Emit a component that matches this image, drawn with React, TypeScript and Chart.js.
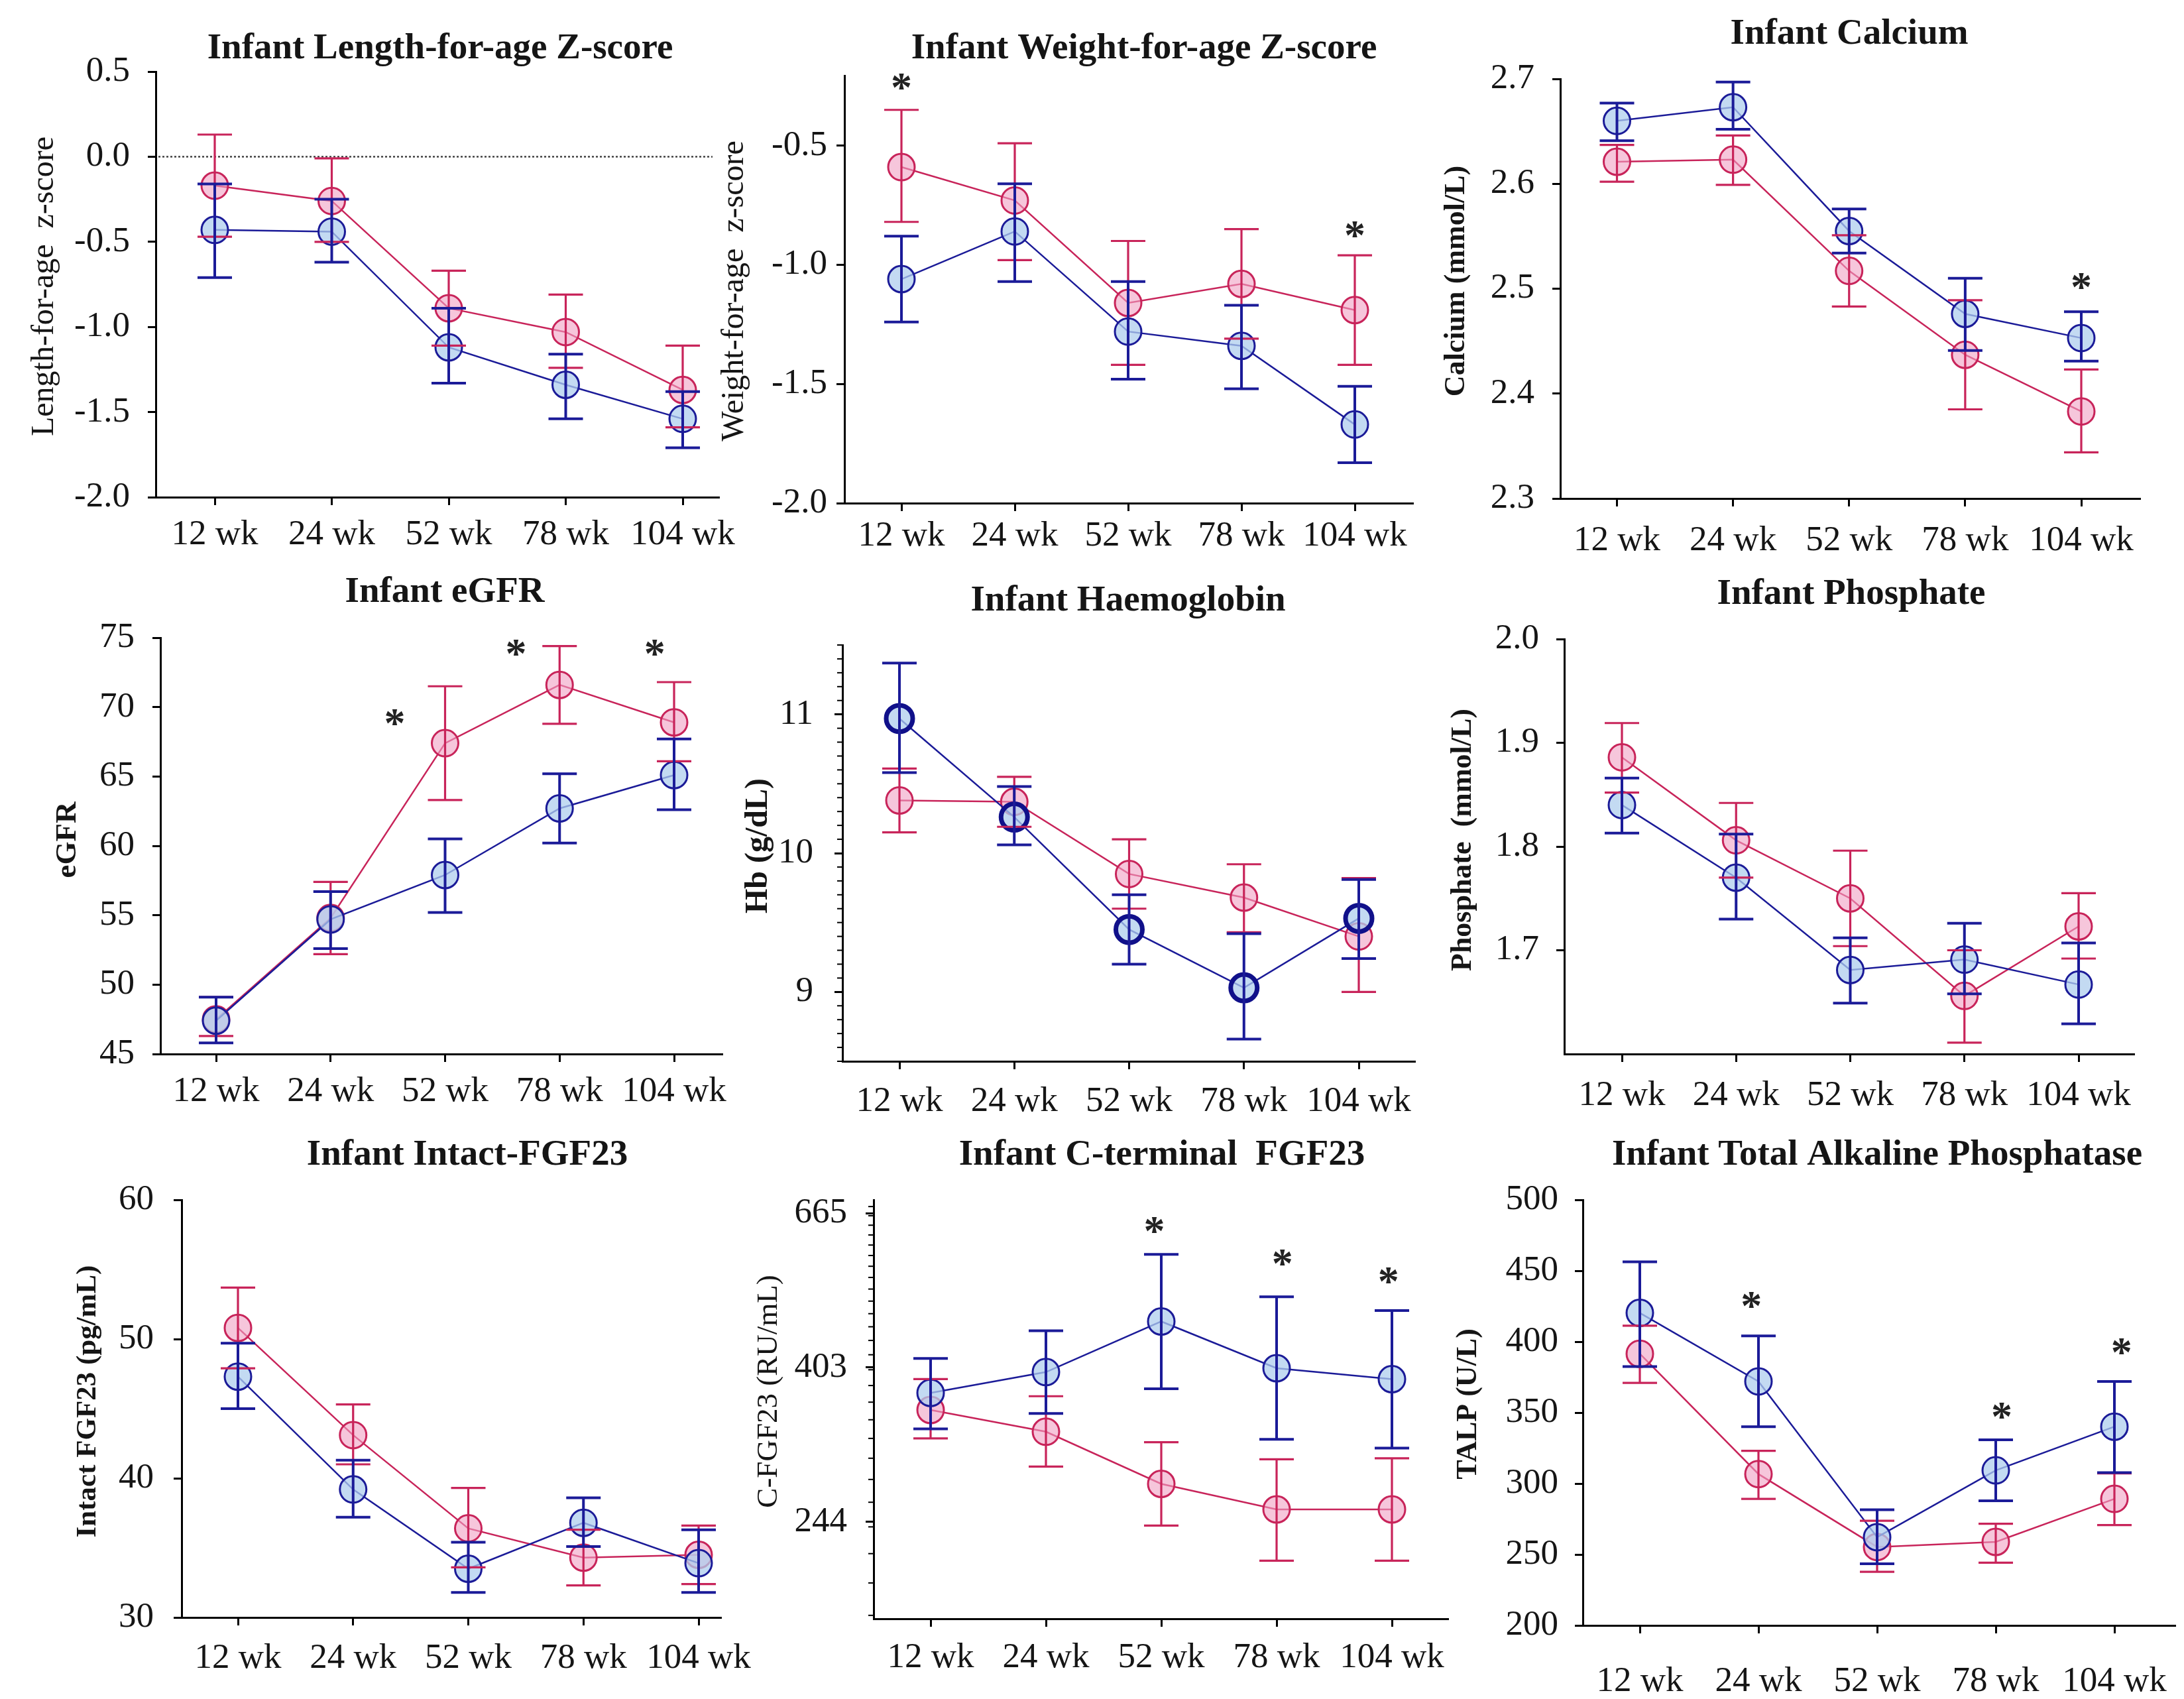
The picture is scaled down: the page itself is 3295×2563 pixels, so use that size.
import React, { useEffect, useRef } from 'react';
import { Chart, registerables } from 'chart.js';

Chart.register(...registerables);

// ---------------- DATA ----------------
const weeks = ['12 wk', '24 wk', '52 wk', '78 wk', '104 wk'];

// Length-for-age Z-score
const lazPink = [-0.17, -0.26, -0.89, -1.03, -1.37];
const lazPinkHi = [0.13, -0.01, -0.67, -0.81, -1.11];
const lazPinkLo = [-0.47, -0.5, -1.11, -1.24, -1.59];
const lazBlue = [-0.43, -0.44, -1.12, -1.34, -1.54];
const lazBlueHi = [-0.16, -0.25, -0.89, -1.16, -1.38];
const lazBlueLo = [-0.71, -0.62, -1.33, -1.54, -1.71];
const lazTicks = [-2.0, -1.5, -1.0, -0.5, 0.0, 0.5];

// Weight-for-age Z-score
const wazPink = [-0.59, -0.73, -1.16, -1.08, -1.19];
const wazPinkHi = [-0.35, -0.49, -0.9, -0.85, -0.96];
const wazPinkLo = [-0.82, -0.98, -1.42, -1.31, -1.42];
const wazBlue = [-1.06, -0.86, -1.28, -1.34, -1.67];
const wazBlueHi = [-0.88, -0.66, -1.07, -1.17, -1.51];
const wazBlueLo = [-1.24, -1.07, -1.48, -1.52, -1.83];
const wazTicks = [-2.0, -1.5, -1.0, -0.5];
const wazStarIdx = [0, 4];
const wazStarVal = [-0.24, -0.86];

// Calcium
const caPink = [2.621, 2.623, 2.517, 2.437, 2.383];
const caPinkHi = [2.637, 2.646, 2.551, 2.489, 2.423];
const caPinkLo = [2.602, 2.599, 2.483, 2.385, 2.344];
const caBlue = [2.66, 2.673, 2.555, 2.476, 2.453];
const caBlueHi = [2.677, 2.697, 2.576, 2.51, 2.478];
const caBlueLo = [2.641, 2.652, 2.534, 2.441, 2.431];
const caTicks = [2.3, 2.4, 2.5, 2.6, 2.7];
const caStarIdx = [4];
const caStarVal = [2.505];

// eGFR
const egPink = [47.5, 54.8, 67.4, 71.6, 68.9];
const egPinkHi = [49.1, 57.4, 71.5, 74.4, 71.8];
const egPinkLo = [46.3, 52.2, 63.3, 68.8, 66.1];
const egBlue = [47.4, 54.7, 57.9, 62.7, 65.1];
const egBlueHi = [49.1, 56.7, 60.5, 65.2, 67.7];
const egBlueLo = [45.8, 52.6, 55.2, 60.2, 62.6];
const egTicks = [45, 50, 55, 60, 65, 70, 75];
const egStarIdx = [1.56, 2.62, 3.83];
const egStarVal = [69.1, 74.1, 74.1];

// Haemoglobin
const hbPink = [10.38, 10.37, 9.85, 9.68, 9.4];
const hbPinkHi = [10.61, 10.55, 10.1, 9.92, 9.82];
const hbPinkLo = [10.15, 10.19, 9.6, 9.43, 9.0];
const hbBlue = [10.97, 10.26, 9.45, 9.03, 9.53];
const hbBlueHi = [11.37, 10.48, 9.7, 9.42, 9.81];
const hbBlueLo = [10.58, 10.06, 9.2, 8.66, 9.24];
const hbTicks = [9, 10, 11];

// Phosphate
const phPink = [1.886, 1.806, 1.75, 1.656, 1.723];
const phPinkHi = [1.919, 1.842, 1.796, 1.7, 1.755];
const phPinkLo = [1.852, 1.77, 1.704, 1.611, 1.692];
const phBlue = [1.84, 1.77, 1.681, 1.691, 1.667];
const phBlueHi = [1.866, 1.812, 1.712, 1.726, 1.707];
const phBlueLo = [1.813, 1.73, 1.649, 1.658, 1.629];
const phTicks = [1.7, 1.8, 1.9, 2.0];

// Intact FGF23
const ifPink = [50.8, 43.1, 36.4, 34.3, 34.5];
const ifPinkHi = [53.7, 45.3, 39.3, 36.3, 36.6];
const ifPinkLo = [47.9, 41.0, 33.6, 32.3, 32.4];
const ifBlue = [47.3, 39.2, 33.5, 36.8, 33.9];
const ifBlueHi = [49.7, 41.3, 35.4, 38.6, 36.3];
const ifBlueLo = [45.0, 37.2, 31.8, 35.1, 31.8];
const ifTicks = [30, 40, 50, 60];

// C-terminal FGF23
const cfPink = [351, 327, 276, 254, 254];
const cfPinkHi = [388, 367, 316, 299, 300];
const cfPinkLo = [320, 292, 241, 215, 215];
const cfBlue = [371, 397, 468, 402, 388];
const cfBlueHi = [415, 454, 582, 507, 485];
const cfBlueLo = [330, 347, 376, 319, 310];
const cfTicks = [244, 403, 665];
const cfStarIdx = [1.94, 3.05, 3.97];
const cfStarVal = [636, 572, 539];

// Total alkaline phosphatase
const tpPink = [391.5, 306.7, 255.3, 258.9, 289.2];
const tpPinkHi = [411.3, 323.1, 273.8, 271.7, 307.2];
const tpPinkLo = [371.0, 289.2, 237.8, 244.2, 270.7];
const tpBlue = [420.3, 372.0, 262.2, 309.3, 340.1];
const tpBlueHi = [456.3, 404.1, 281.5, 330.8, 372.0];
const tpBlueLo = [382.5, 340.1, 243.4, 287.9, 307.7];
const tpTicks = [200, 250, 300, 350, 400, 450, 500];
const tpStarIdx = [0.94, 3.05, 4.06];
const tpStarVal = [428, 350, 395];

// ---------------- STYLE ----------------
const FAMILY = "'Liberation Serif', 'Times New Roman', serif";
const PINK = '#C8245A';
const PINK_FILL = 'rgba(240,160,195,0.6)';
const BLUE = '#1B1B98';
const BLUE_FILL = 'rgba(175,205,238,0.75)';
const TEXT = '#151515';

const PL = 150, YW = 170, PT = 150, PR = 110, XH = 120, PB = 10;
const TICK_LEN = 12;
const TICK_FONT = 53;
const TITLE_FONT = 55;

function range(a: number, b: number, step: number): number[] {
  const out: number[] = [];
  const n = Math.round((b - a) / step);
  for (let i = 0; i <= n; i++) out.push(+(a + i * step).toFixed(4));
  return out;
}

type PanelCfg = {
  title: string; titleX: number; titleY: number;
  yTitle: string; yTitleX: number; yTitleY: number; yTitleBold: boolean; yTitleSize: number;
  L: number; T: number; R: number; B: number; x12: number; x104: number;
  yType: 'linear' | 'logarithmic'; yMin: number; yMax: number; yTicks: number[]; yDecimals: number;
  yLabelGap: number; xLabelOffset: number;
  pink: number[]; pinkHi: number[]; pinkLo: number[];
  blue: number[]; blueHi: number[]; blueLo: number[];
  starIdx?: number[]; starVal?: number[];
  minorTicks?: number[]; refLine?: number;
  blueMarkerWidth?: number; blueMarkerColor?: string;
};

const panels: PanelCfg[] = [
  {
    title: 'Infant Length-for-age Z-score', titleX: 664, titleY: 88,
    yTitle: 'Length-for-age  z-score', yTitleX: 67, yTitleY: 432, yTitleBold: false, yTitleSize: 48,
    L: 235, T: 108, R: 1085, B: 750, x12: 324, x104: 1030,
    yType: 'linear', yMin: -2.0, yMax: 0.5, yTicks: lazTicks, yDecimals: 1, yLabelGap: 39, xLabelOffset: 57,
    pink: lazPink, pinkHi: lazPinkHi, pinkLo: lazPinkLo, blue: lazBlue, blueHi: lazBlueHi, blueLo: lazBlueLo,
    refLine: 0,
  },
  {
    title: 'Infant Weight-for-age Z-score', titleX: 1726, titleY: 88,
    yTitle: 'Weight-for-age  z-score', yTitleX: 1108, yTitleY: 439, yTitleBold: false, yTitleSize: 48,
    L: 1274, T: 114, R: 2132, B: 759, x12: 1360, x104: 2044,
    yType: 'linear', yMin: -2.0, yMax: -0.206, yTicks: wazTicks, yDecimals: 1, yLabelGap: 26, xLabelOffset: 50,
    pink: wazPink, pinkHi: wazPinkHi, pinkLo: wazPinkLo, blue: wazBlue, blueHi: wazBlueHi, blueLo: wazBlueLo,
    starIdx: wazStarIdx, starVal: wazStarVal,
  },
  {
    title: 'Infant Calcium', titleX: 2790, titleY: 66,
    yTitle: 'Calcium (mmol/L)', yTitleX: 2198, yTitleY: 424, yTitleBold: true, yTitleSize: 44,
    L: 2354, T: 119, R: 3229, B: 752, x12: 2439.5, x104: 3140,
    yType: 'linear', yMin: 2.3, yMax: 2.7, yTicks: caTicks, yDecimals: 1, yLabelGap: 39, xLabelOffset: 64,
    pink: caPink, pinkHi: caPinkHi, pinkLo: caPinkLo, blue: caBlue, blueHi: caBlueHi, blueLo: caBlueLo,
    starIdx: caStarIdx, starVal: caStarVal,
  },
  {
    title: 'Infant eGFR', titleX: 671, titleY: 908,
    yTitle: 'eGFR', yTitleX: 102, yTitleY: 1267, yTitleBold: true, yTitleSize: 45,
    L: 242, T: 962, R: 1090, B: 1590, x12: 326, x104: 1017,
    yType: 'linear', yMin: 45, yMax: 75, yTicks: egTicks, yDecimals: 0, yLabelGap: 39, xLabelOffset: 57,
    pink: egPink, pinkHi: egPinkHi, pinkLo: egPinkLo, blue: egBlue, blueHi: egBlueHi, blueLo: egBlueLo,
    starIdx: egStarIdx, starVal: egStarVal,
  },
  {
    title: 'Infant Haemoglobin', titleX: 1702, titleY: 921,
    yTitle: 'Hb (g/dL)', yTitleX: 1145, yTitleY: 1276, yTitleBold: true, yTitleSize: 48,
    L: 1271, T: 973, R: 2135, B: 1601, x12: 1357, x104: 2050,
    yType: 'linear', yMin: 8.5, yMax: 11.5, yTicks: hbTicks, yDecimals: 0, yLabelGap: 44, xLabelOffset: 61,
    pink: hbPink, pinkHi: hbPinkHi, pinkLo: hbPinkLo, blue: hbBlue, blueHi: hbBlueHi, blueLo: hbBlueLo,
    minorTicks: range(8.5, 11.5, 0.1), blueMarkerWidth: 7, blueMarkerColor: '#10108A',
  },
  {
    title: 'Infant Phosphate', titleX: 2793, titleY: 911,
    yTitle: 'Phosphate  (mmol/L)', yTitleX: 2208, yTitleY: 1267, yTitleBold: true, yTitleSize: 44,
    L: 2360, T: 964, R: 3220, B: 1590, x12: 2447, x104: 3136,
    yType: 'linear', yMin: 1.6, yMax: 2.0, yTicks: phTicks, yDecimals: 1, yLabelGap: 38, xLabelOffset: 63,
    pink: phPink, pinkHi: phPinkHi, pinkLo: phPinkLo, blue: phBlue, blueHi: phBlueHi, blueLo: phBlueLo,
  },
  {
    title: 'Infant Intact-FGF23', titleX: 705, titleY: 1757,
    yTitle: 'Intact FGF23 (pg/mL)', yTitleX: 133, yTitleY: 2114, yTitleBold: true, yTitleSize: 43,
    L: 274, T: 1810, R: 1088, B: 2440, x12: 359, x104: 1054,
    yType: 'linear', yMin: 30, yMax: 60, yTicks: ifTicks, yDecimals: 0, yLabelGap: 42, xLabelOffset: 62,
    pink: ifPink, pinkHi: ifPinkHi, pinkLo: ifPinkLo, blue: ifBlue, blueHi: ifBlueHi, blueLo: ifBlueLo,
  },
  {
    title: 'Infant C-terminal  FGF23', titleX: 1753, titleY: 1757,
    yTitle: 'C-FGF23 (RU/mL)', yTitleX: 1160, yTitleY: 2099, yTitleBold: false, yTitleSize: 45,
    L: 1318, T: 1810, R: 2185, B: 2442, x12: 1404, x104: 2100,
    yType: 'logarithmic', yMin: 178, yMax: 695, yTicks: cfTicks, yDecimals: 0, yLabelGap: 40, xLabelOffset: 59,
    pink: cfPink, pinkHi: cfPinkHi, pinkLo: cfPinkLo, blue: cfBlue, blueHi: cfBlueHi, blueLo: cfBlueLo,
    starIdx: cfStarIdx, starVal: cfStarVal, minorTicks: range(180, 680, 20),
  },
  {
    title: 'Infant Total Alkaline Phosphatase', titleX: 2832, titleY: 1757,
    yTitle: 'TALP (U/L)', yTitleX: 2216, yTitleY: 2118, yTitleBold: true, yTitleSize: 44,
    L: 2388, T: 1810, R: 3282, B: 2452, x12: 2474, x104: 3190,
    yType: 'linear', yMin: 200, yMax: 500, yTicks: tpTicks, yDecimals: 0, yLabelGap: 37, xLabelOffset: 85,
    pink: tpPink, pinkHi: tpPinkHi, pinkLo: tpPinkLo, blue: tpBlue, blueHi: tpBlueHi, blueLo: tpBlueLo,
    starIdx: tpStarIdx, starVal: tpStarVal,
  },
];

function makeDecor(p: PanelCfg, cl: number, ct: number) {
  return {
    id: 'decor',
    afterDatasetsDraw(chart: any) {
      const ctx = chart.ctx as CanvasRenderingContext2D;
      const xs = chart.scales.x;
      const ys = chart.scales.y;
      const area = chart.chartArea;
      ctx.save();
      if (p.refLine !== undefined) {
        const y = ys.getPixelForValue(p.refLine);
        ctx.strokeStyle = '#444';
        ctx.lineWidth = 2.5;
        ctx.setLineDash([3, 3]);
        ctx.beginPath();
        ctx.moveTo(area.left + 4, y);
        ctx.lineTo(area.right - 10, y);
        ctx.stroke();
        ctx.setLineDash([]);
      }
      const bars = [
        { hi: p.pinkHi, lo: p.pinkLo, color: PINK, w: 3.2 },
        { hi: p.blueHi, lo: p.blueLo, color: BLUE, w: 4 },
      ];
      const cap = 26;
      for (const b of bars) {
        ctx.strokeStyle = b.color;
        ctx.lineWidth = b.w;
        for (let i = 0; i < b.hi.length; i++) {
          const x = xs.getPixelForValue(i);
          const yh = ys.getPixelForValue(b.hi[i]);
          const yl = ys.getPixelForValue(b.lo[i]);
          ctx.beginPath();
          ctx.moveTo(x, yh); ctx.lineTo(x, yl);
          ctx.moveTo(x - cap, yh); ctx.lineTo(x + cap, yh);
          ctx.moveTo(x - cap, yl); ctx.lineTo(x + cap, yl);
          ctx.stroke();
        }
      }
      ctx.restore();
    },
    afterDraw(chart: any) {
      const ctx = chart.ctx as CanvasRenderingContext2D;
      const xs = chart.scales.x;
      const ys = chart.scales.y;
      const area = chart.chartArea;
      ctx.save();
      if (p.minorTicks) {
        ctx.strokeStyle = '#000';
        ctx.lineWidth = 2;
        for (const v of p.minorTicks) {
          if (v < p.yMin || v > p.yMax) continue;
          const y = ys.getPixelForValue(v);
          ctx.beginPath();
          ctx.moveTo(area.left, y);
          ctx.lineTo(area.left - 8, y);
          ctx.stroke();
        }
      }
      ctx.fillStyle = TEXT;
      ctx.font = `bold ${TITLE_FONT}px ${FAMILY}`;
      ctx.textAlign = 'center';
      ctx.textBaseline = 'alphabetic';
      ctx.fillText(p.title, p.titleX - cl, p.titleY - ct);
      ctx.save();
      ctx.translate(p.yTitleX - cl, p.yTitleY - ct);
      ctx.rotate(-Math.PI / 2);
      ctx.font = `${p.yTitleBold ? 'bold ' : ''}${p.yTitleSize}px ${FAMILY}`;
      ctx.textAlign = 'center';
      ctx.textBaseline = 'middle';
      ctx.fillText(p.yTitle, 0, 0);
      ctx.restore();
      if (p.starIdx && p.starVal) {
        ctx.font = `bold 64px ${FAMILY}`;
        ctx.fillStyle = '#222';
        ctx.textAlign = 'center';
        ctx.textBaseline = 'middle';
        for (let i = 0; i < p.starIdx.length; i++) {
          const x = xs.getPixelForValue(p.starIdx[i]);
          const y = ys.getPixelForValue(p.starVal[i]);
          ctx.fillText('*', x, y + 10);
        }
      }
      ctx.restore();
    },
  };
}

function Panel({ p }: { p: PanelCfg }) {
  const ref = useRef<HTMLCanvasElement | null>(null);
  const cl = p.L - PL - YW;
  const ct = p.T - PT;
  const w = p.R - p.L + PL + YW + PR;
  const h = p.B - p.T + PT + XH + PB;

  useEffect(() => {
    if (!ref.current) return;
    const step = (p.x104 - p.x12) / 4;
    const xMin = (p.L - p.x12) / step;
    const xMax = (p.R - p.x12) / step;
    const tickFont = { family: FAMILY, size: TICK_FONT, lineHeight: 1 };
    const chart = new Chart(ref.current, {
      type: 'line',
      data: {
        datasets: [
          {
            label: 'blue',
            data: p.blue.map((v, i) => ({ x: i, y: v })),
            borderColor: BLUE,
            backgroundColor: BLUE_FILL,
            borderWidth: 2.5,
            pointRadius: 20,
            pointBackgroundColor: BLUE_FILL,
            pointBorderColor: p.blueMarkerColor || BLUE,
            pointBorderWidth: p.blueMarkerWidth || 3,
            tension: 0,
            order: 0,
            clip: false,
          } as any,
          {
            label: 'pink',
            data: p.pink.map((v, i) => ({ x: i, y: v })),
            borderColor: PINK,
            backgroundColor: PINK_FILL,
            borderWidth: 2.5,
            pointRadius: 20,
            pointBackgroundColor: PINK_FILL,
            pointBorderColor: PINK,
            pointBorderWidth: 3,
            tension: 0,
            order: 1,
            clip: false,
          } as any,
        ],
      },
      options: {
        animation: false,
        responsive: false,
        maintainAspectRatio: false,
        devicePixelRatio: 1,
        events: [],
        layout: { padding: { left: PL, top: PT, right: PR, bottom: PB } },
        plugins: { legend: { display: false }, tooltip: { enabled: false }, title: { display: false } },
        scales: {
          x: {
            type: 'linear',
            min: xMin,
            max: xMax,
            afterBuildTicks: (s: any) => { s.ticks = weeks.map((_, i) => ({ value: i })); },
            afterFit: (s: any) => { s.height = XH; },
            ticks: {
              callback: (v: any) => weeks[Math.round(Number(v))] ?? '',
              font: tickFont,
              color: TEXT,
              padding: p.xLabelOffset - TICK_LEN - TICK_FONT / 2,
              maxRotation: 0,
              minRotation: 0,
              autoSkip: false,
            },
            grid: { drawOnChartArea: false, drawTicks: true, tickLength: TICK_LEN, tickColor: '#000', tickWidth: 3 },
            border: { display: true, color: '#000', width: 3 },
          },
          y: {
            type: p.yType,
            min: p.yMin,
            max: p.yMax,
            afterBuildTicks: (s: any) => { s.ticks = p.yTicks.map((v) => ({ value: v })); },
            afterFit: (s: any) => { s.width = YW; },
            ticks: {
              callback: (v: any) => Number(v).toFixed(p.yDecimals),
              font: tickFont,
              color: TEXT,
              padding: p.yLabelGap - TICK_LEN,
              autoSkip: false,
            },
            grid: { drawOnChartArea: false, drawTicks: true, tickLength: TICK_LEN, tickColor: '#000', tickWidth: 3 },
            border: { display: true, color: '#000', width: 3 },
          } as any,
        },
      } as any,
      plugins: [makeDecor(p, cl, ct)],
    });
    return () => chart.destroy();
  }, []);

  return (
    <canvas
      ref={ref}
      width={w}
      height={h}
      style={{ position: 'absolute', left: cl, top: ct, width: w, height: h }}
    />
  );
}

export default function App() {
  return (
    <div
      style={{
        position: 'fixed',
        left: 0,
        top: 0,
        width: 3295,
        height: 2563,
        overflow: 'hidden',
        background: '#ffffff',
      }}
    >
      {panels.map((p, i) => (
        <Panel key={i} p={p} />
      ))}
    </div>
  );
}
